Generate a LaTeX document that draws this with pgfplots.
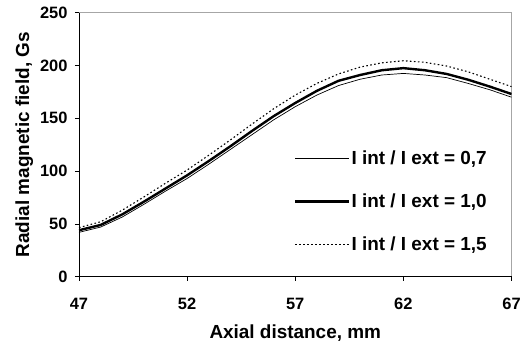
\documentclass[border=0pt]{standalone}
\usepackage{fontspec}
\setmainfont{Liberation Sans}
\usepackage{pgfplots}
\pgfplotsset{compat=1.18}
\begin{document}
\begin{tikzpicture}
\begin{axis}[
  scale only axis,
  width=432.5bp, height=264bp,
  xmin=47, xmax=67, ymin=0, ymax=250,
  xtick={47,52,57,62,67},
  ytick={0,50,100,150,200,250},
  axis line style={draw=gray!70, line width=0.6bp},
  tick pos=left,
  tick align=outside,
  major tick length=4bp,
  tick style={black, line width=0.6bp},
  /pgf/number format/assume math mode=true,
  ticklabel style={font=\fontsize{16.5}{18}\selectfont\bfseries},
  xticklabel style={yshift=-14bp},
  yticklabel style={xshift=-4bp},
  xlabel={Axial distance, mm},
  ylabel={Radial magnetic field, Gs},
  label style={font=\fontsize{19}{22}\selectfont\bfseries},
  xlabel style={yshift=-8bp},
  ylabel style={yshift=0bp},
  legend style={draw=none, fill=none, at={(0.49,0.49)}, anchor=north west,
    font=\fontsize{19}{22}\selectfont\bfseries, row sep=26bp,
    nodes={inner sep=1bp}},
  legend cell align=left,
  legend image code/.code={\draw[#1] (0bp,0bp) -- (54bp,0bp);},
  after end axis/.code={\draw[black, line width=0.6bp] (rel axis cs:0,1) -- (rel axis cs:0,0) -- (rel axis cs:1,0);},
]
\addplot[black, line width=0.7bp] coordinates {
(47,42) (48,47) (49,56.5) (50,68.5) (51,81) (52,93) (53,106.5) (54,120.5) (55,134.5) (56,148.5) (57,161) (58,172) (59,181) (60,187) (61,191) (62,192.5) (63,191) (64,188.5) (65,183) (66,177) (67,170)};
\addlegendentry{I int / I ext = 0,7}
\addplot[black, line width=2.4bp] coordinates {
(47,44) (48,49) (49,59) (50,71) (51,83.5) (52,96) (53,109.5) (54,123.5) (55,138) (56,152) (57,164.5) (58,176) (59,185.5) (60,191) (61,195.5) (62,197.5) (63,195.5) (64,192) (65,186.5) (66,180) (67,173)};
\addlegendentry{I int / I ext = 1,0}
\addplot[black, line width=1.1bp, dash pattern=on 1.6bp off 2.4bp] coordinates {
(47,46.5) (48,52) (49,63) (50,75.5) (51,88.5) (52,101) (53,115) (54,129.5) (55,144.5) (56,159) (57,172) (58,183) (59,192) (60,198.5) (61,202.5) (62,204.5) (63,203) (64,199.5) (65,194) (66,187) (67,180)};
\addlegendentry{I int / I ext = 1,5}
\end{axis}
\pgfresetboundingbox
\path ([xshift=-79bp,yshift=-68.3bp]current axis.south west) rectangle ([xshift=19.5bp,yshift=12.7bp]current axis.north east);
\end{tikzpicture}
\end{document}
